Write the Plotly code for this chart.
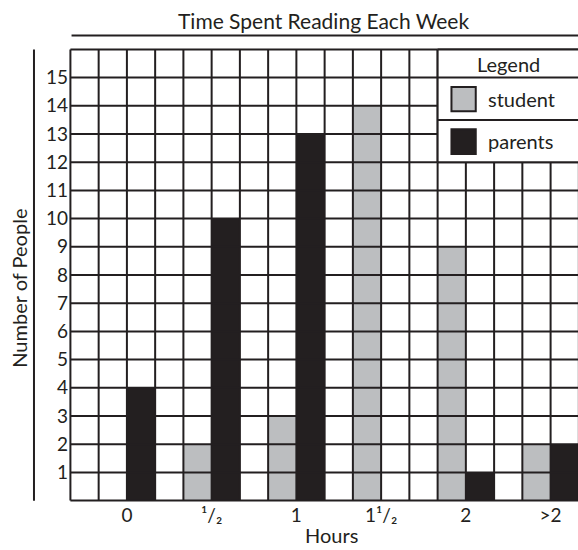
import plotly.graph_objects as go

# ---- data ----
categories = ["0", "¹/₂", "1", "1¹/₂", "2", ">2"]
student = [0, 2, 3, 14, 9, 2]
parents = [4, 10, 13, 0, 1, 2]
y_ticks = list(range(1, 16))

INK = "#231f20"
GRAY = "#bcbec0"
FONT = "Lato"

# each category occupies 3 grid columns: gap, student, parents
xs_student = [3 * i + 1.5 for i in range(len(categories))]
xs_parents = [3 * i + 2.5 for i in range(len(categories))]
tick_pos = [3 * i + 2 for i in range(len(categories))]

X0, X1 = -0.05, 17.97
Y0, Y1 = -0.05, 16.05

fig = go.Figure()
fig.add_trace(go.Bar(x=xs_student, y=student, width=1, marker=dict(color=GRAY, line=dict(width=0)),
                     name="student", showlegend=False, hoverinfo="skip"))
fig.add_trace(go.Bar(x=xs_parents, y=parents, width=1, marker=dict(color=INK, line=dict(width=0)),
                     name="parents", showlegend=False, hoverinfo="skip"))

shapes = []
# grid (drawn above bars)
for j in range(0, 19):
    shapes.append(dict(type="line", xref="x", yref="y", x0=j, x1=j, y0=0, y1=16,
                       line=dict(color=INK, width=2), layer="above"))
for k in range(0, 17):
    shapes.append(dict(type="line", xref="x", yref="y", x0=0, x1=18.5, y0=k, y1=k,
                       line=dict(color=INK, width=2), layer="above"))
# legend box
shapes.append(dict(type="rect", xref="x", yref="y", x0=13, x1=18.5, y0=12, y1=16,
                   fillcolor="white", line=dict(width=0), layer="above"))
shapes.append(dict(type="line", xref="x", yref="y", x0=13, x1=13, y0=12, y1=16,
                   line=dict(color=INK, width=2), layer="above"))
for yy in [16, 15, 13.5, 12]:
    shapes.append(dict(type="line", xref="x", yref="y", x0=13, x1=18.5, y0=yy, y1=yy,
                       line=dict(color=INK, width=2), layer="above"))
shapes.append(dict(type="rect", xref="x", yref="y", x0=13.49, x1=14.35, y0=13.81, y1=14.67,
                   fillcolor=GRAY, line=dict(color=INK, width=2), layer="above"))
shapes.append(dict(type="rect", xref="x", yref="y", x0=13.49, x1=14.35, y0=12.29, y1=13.17,
                   fillcolor=INK, line=dict(color=INK, width=2), layer="above"))
# title underline
shapes.append(dict(type="line", xref="paper", yref="paper", x0=0.005, x1=1, y0=1.0273, y1=1.0273,
                   line=dict(color=INK, width=2)))
# separate y-axis line
shapes.append(dict(type="line", xref="paper", yref="paper", x0=-0.0688, x1=-0.0688, y0=0.003, y1=0.9965,
                   line=dict(color=INK, width=2)))

annotations = [
    dict(text="Time Spent Reading Each Week", xref="paper", yref="paper", x=0.5, y=1.06,
         xanchor="center", yanchor="middle", showarrow=False, font=dict(size=21, color=INK, family=FONT)),
    dict(text="Number of People", xref="paper", yref="paper", x=-0.098, y=0.47, textangle=-90,
         xanchor="center", yanchor="middle", showarrow=False, font=dict(size=20, color=INK, family=FONT)),
    dict(text="Hours", xref="paper", yref="paper", x=0.515, y=-0.072,
         xanchor="center", yanchor="middle", showarrow=False, font=dict(size=20, color=INK, family=FONT)),
    dict(text="Legend", xref="x", yref="y", x=15.5, y=15.5, xanchor="center", yanchor="middle",
         showarrow=False, font=dict(size=20, color=INK, family=FONT)),
    dict(text="student", xref="x", yref="y", x=14.71, y=14.25, xanchor="left", yanchor="middle",
         showarrow=False, font=dict(size=20, color=INK, family=FONT)),
    dict(text="parents", xref="x", yref="y", x=14.71, y=12.75, xanchor="left", yanchor="middle",
         showarrow=False, font=dict(size=20, color=INK, family=FONT)),
]

fig.update_layout(
    template="none",
    width=578, height=550,
    margin=dict(l=69, r=0, t=48, b=48, autoexpand=False),
    paper_bgcolor="white", plot_bgcolor="white",
    barmode="overlay", bargap=0,
    shapes=shapes, annotations=annotations,
    showlegend=False, hovermode=False,
    font=dict(family=FONT, color=INK, size=18),
)
fig.update_xaxes(range=[X0, X1], showgrid=False, zeroline=False, showline=False, automargin=False,
                 tickmode="array", tickvals=tick_pos, ticktext=categories, ticks="",
                 tickfont=dict(size=19, family=FONT, color=INK))
fig.update_yaxes(range=[Y0, Y1], showgrid=False, zeroline=False, showline=False, automargin=False,
                 tickmode="array", tickvals=y_ticks, ticktext=[str(v) for v in y_ticks], ticks="",
                 tickfont=dict(size=19, family=FONT, color=INK))

fig.write_html("out.html", config={"displayModeBar": False, "staticPlot": True},
               post_script="document.body.style.margin='0';document.body.style.overflow='hidden';")
